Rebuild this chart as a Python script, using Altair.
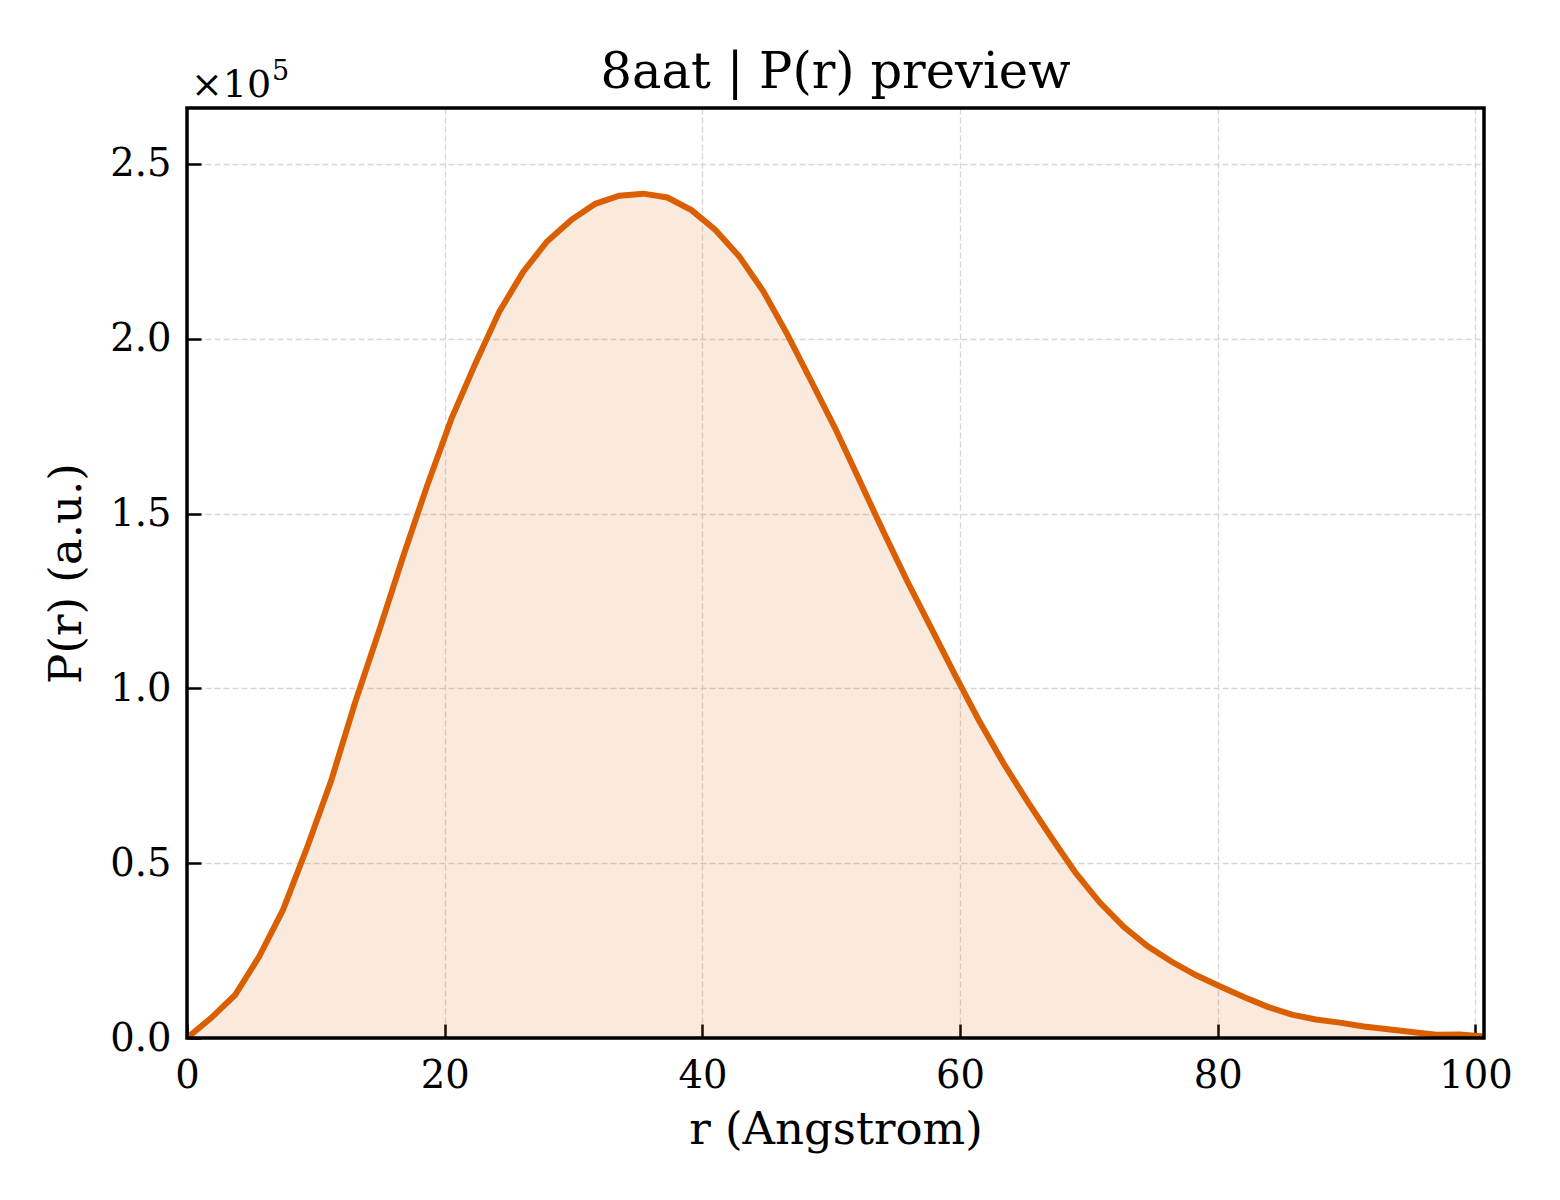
import altair as alt
import pandas as pd

# r grid (Angstrom) and P(r) in units of 1e5
r_values = [0.00, 1.86, 3.73, 5.59, 7.46, 9.32, 11.18, 13.05, 14.91, 16.78,
            18.64, 20.51, 22.37, 24.23, 26.10, 27.96, 29.83, 31.69, 33.55, 35.42,
            37.28, 39.15, 41.01, 42.87, 44.74, 46.60, 48.47, 50.33, 52.19, 54.06,
            55.92, 57.79, 59.65, 61.51, 63.38, 65.24, 67.11, 68.97, 70.83, 72.70,
            74.56, 76.43, 78.29, 80.15, 82.02, 83.88, 85.75, 87.61, 89.47, 91.34,
            93.20, 95.07, 96.93, 98.79, 100.66]
p_values = [0.000, 0.057, 0.123, 0.232, 0.367, 0.545, 0.735, 0.960, 1.165, 1.378,
            1.580, 1.770, 1.928, 2.077, 2.192, 2.279, 2.340, 2.386, 2.409, 2.415,
            2.404, 2.368, 2.311, 2.235, 2.135, 2.012, 1.877, 1.742, 1.595, 1.447,
            1.305, 1.170, 1.035, 0.905, 0.785, 0.676, 0.572, 0.472, 0.388, 0.318,
            0.262, 0.218, 0.180, 0.148, 0.117, 0.089, 0.067, 0.053, 0.044, 0.033,
            0.025, 0.017, 0.009, 0.010, 0.004]

x_ticks = [0, 20, 40, 60, 80, 100]
y_ticks = [0.0, 0.5, 1.0, 1.5, 2.0, 2.5]
x_domain = [0, 100.66]
y_domain = [0, 2.66]
title_text = ["8aat | P(r) preview"]
x_title = "r (Angstrom)"
y_title = "P(r) (a.u.)"
offset_base = ["×10"]
offset_exp = ["5"]

LINE = "#D95F02"
FONT = "DejaVu Serif"
W, H = 1297, 930

df = pd.DataFrame({"r": r_values, "p": p_values})

xs = alt.Scale(domain=x_domain, nice=False, zero=False)
ys = alt.Scale(domain=y_domain, nice=False, zero=False)

main_x_axis = alt.Axis(values=x_ticks, format="d", title=x_title, grid=True,
                       gridDash=[6, 3], gridColor="#d6d6d6", gridWidth=1.3,
                       ticks=False, domain=False, labelPadding=19,
                       labelFontSize=38.5, labelFont=FONT, labelColor="black",
                       titleFontSize=45, titleFont=FONT, titleFontWeight="normal",
                       titleColor="black", titlePadding=13, labelFlush=False)
main_y_axis = alt.Axis(values=y_ticks, format=".1f", title=y_title, grid=True,
                       gridDash=[6, 3], gridColor="#d6d6d6", gridWidth=1.3,
                       ticks=False, domain=False, labelPadding=16,
                       labelFontSize=38.5, labelFont=FONT, labelColor="black",
                       titleFontSize=45, titleFont=FONT, titleFontWeight="normal",
                       titleColor="black", titlePadding=20, labelFlush=False)

tick_x_axis = alt.Axis(values=x_ticks, orient="top", offset=-H, labels=False,
                       domain=False, grid=False, ticks=True, tickSize=14,
                       tickWidth=2.5, tickColor="black", title=None)
tick_y_axis = alt.Axis(values=y_ticks, orient="right", offset=-W, labels=False,
                       domain=False, grid=False, ticks=True, tickSize=14,
                       tickWidth=2.5, tickColor="black", title=None)

area = alt.Chart(df).mark_area(color=LINE, opacity=0.13).encode(
    x=alt.X("r:Q", scale=xs, axis=main_x_axis),
    y=alt.Y("p:Q", scale=ys, axis=main_y_axis),
)

line = alt.Chart(df).mark_line(color=LINE, strokeWidth=6).encode(
    x=alt.X("r:Q", scale=xs, axis=tick_x_axis),
    y=alt.Y("p:Q", scale=ys, axis=tick_y_axis),
)

frame = alt.Chart(pd.DataFrame({"f": [1]})).mark_rect(
    filled=False, stroke="black", strokeWidth=3.5
).encode(x=alt.value(0), x2=alt.value(W), y=alt.value(0), y2=alt.value(H))

base_text = alt.Chart(pd.DataFrame({"t": offset_base})).mark_text(
    align="left", baseline="alphabetic", font=FONT, fontSize=38, color="black"
).encode(x=alt.value(4), y=alt.value(-11), text="t:N")

exp_text = alt.Chart(pd.DataFrame({"t": offset_exp})).mark_text(
    align="left", baseline="alphabetic", font=FONT, fontSize=27, color="black"
).encode(x=alt.value(85), y=alt.value(-28), text="t:N")

title = alt.Chart(pd.DataFrame({"t": title_text})).mark_text(
    align="center", baseline="alphabetic", font=FONT, fontSize=49.5, color="black"
).encode(x=alt.value(W / 2), y=alt.value(-20), text="t:N")

chart = alt.layer(area, line, frame, base_text, exp_text, title).resolve_axis(
    x="independent", y="independent"
).properties(
    width=W, height=H,
    autosize=alt.AutoSizeParams(type="none"),
    padding={"left": 179, "top": 100, "right": 60, "bottom": 150},
    background="white",
).configure_view(stroke=None)

chart.save("out.html", embed_options={"renderer": "svg", "actions": False})
